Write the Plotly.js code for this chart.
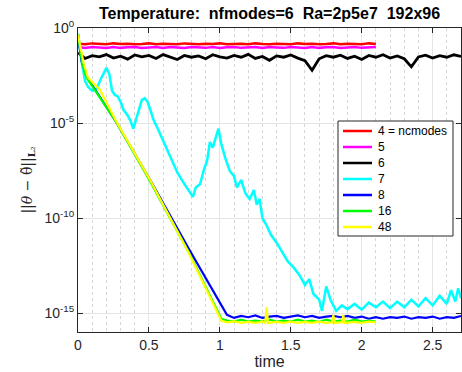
<!DOCTYPE html>
<html>
<head>
<meta charset="utf-8">
<script src="https://cdn.plot.ly/plotly-3.0.1.min.js"></script>
<style>html,body{margin:0;padding:0;background:#fff;}#chart{width:462px;height:372px;}</style>
</head>
<body>
<div id="chart"></div>
<script>
// ---- data ----
const seriesNames = ['4 = ncmodes', '5', '6', '7', '8', '16', '48'];
const seriesColors = ['#ff0000', '#ff00ff', '#000000', '#00ffff', '#0000ff', '#00ff00', '#ffff00'];

const T = [0,0.05,0.1,0.15,0.2,0.25,0.3,0.35,0.4,0.45,0.5,0.55,0.6,0.65,0.7,0.75,0.8,0.85,0.9,0.95,1,1.05,1.1,1.15,1.2,1.25,1.3,1.35,1.4,1.45,1.5,1.55,1.6,1.65,1.7,1.75,1.8,1.85,1.9,1.95,2,2.05,2.1,2.15,2.2,2.25,2.3,2.35,2.4,2.45,2.5,2.55,2.6,2.65,2.7];
const T_short = [0,0.05,0.1,0.15,0.2,0.25,0.3,0.35,0.4,0.45,0.5,0.55,0.6,0.65,0.7,0.75,0.8,0.85,0.9,0.95,1,1.05,1.1,1.15,1.2,1.25,1.3,1.35,1.4,1.45,1.5,1.55,1.6,1.65,1.7,1.75,1.8,1.85,1.9,1.95,2,2.05,2.1];

const red_vals = [0.15,0.14,0.155,0.145,0.14,0.155,0.145,0.15,0.14,0.145,0.155,0.14,0.15,0.145,0.14,0.155,0.145,0.14,0.15,0.145,0.155,0.14,0.145,0.15,0.14,0.155,0.145,0.14,0.15,0.145,0.14,0.155,0.145,0.15,0.14,0.145,0.155,0.14,0.15,0.145,0.14,0.155,0.145];
const magenta_vals = [0.1,0.09,0.1,0.095,0.088,0.1,0.09,0.096,0.1,0.088,0.095,0.1,0.09,0.1,0.094,0.088,0.1,0.095,0.09,0.1,0.088,0.096,0.1,0.09,0.095,0.1,0.088,0.1,0.095,0.09,0.1,0.094,0.088,0.1,0.09,0.096,0.1,0.088,0.095,0.1,0.09,0.095,0.1];
const black_vals = [0.05,0.025,0.035,0.03,0.04,0.026,0.033,0.023,0.038,0.03,0.036,0.025,0.04,0.03,0.022,0.036,0.029,0.034,0.024,0.039,0.03,0.026,0.036,0.029,0.041,0.025,0.032,0.02,0.034,0.029,0.038,0.026,0.019,0.006,0.024,0.035,0.029,0.037,0.025,0.033,0.022,0.036,0.029,0.039,0.026,0.034,0.024,0.009,0.03,0.037,0.026,0.035,0.029,0.039,0.032];

const cyan_t = [0,0.02,0.05,0.07,0.1,0.13,0.16,0.19,0.2,0.22,0.24,0.26,0.28,0.3,0.32,0.35,0.37,0.39,0.41,0.43,0.45,0.47,0.49,0.51,0.53,0.55,0.58,0.62,0.66,0.7,0.74,0.78,0.81,0.83,0.86,0.89,0.91,0.93,0.95,0.97,0.99,1.01,1.04,1.07,1.1,1.12,1.15,1.18,1.21,1.24,1.26,1.28,1.3,1.33,1.36,1.4,1.44,1.48,1.52,1.56,1.6,1.63,1.66,1.7,1.72,1.75,1.78,1.82,1.86,1.9,1.95,2,2.05,2.1,2.15,2.2,2.25,2.3,2.35,2.4,2.45,2.5,2.55,2.6,2.63,2.66,2.68,2.7];
const cyan_vals = [0.5,0.03,1.6e-3,8e-4,5e-4,6e-4,2e-3,6e-3,8e-3,4e-3,5e-4,3e-4,2.5e-4,1.3e-4,5e-5,2.5e-5,1.3e-5,5e-6,1.6e-5,6e-5,1.6e-4,2e-4,1.3e-4,5e-5,1.6e-5,8e-6,2.5e-6,5e-7,1e-7,2.5e-8,8e-9,3e-9,1.3e-9,4e-9,6e-9,4e-8,1e-7,1e-6,5e-7,1.6e-6,5e-6,8e-7,1.3e-7,3e-8,1.6e-8,4e-9,1e-8,2e-9,1e-9,3e-9,5e-10,1e-9,1e-10,4e-11,1.3e-11,5e-12,1.6e-12,5e-13,2.5e-13,1e-13,3e-14,6e-14,1e-14,5e-15,1.3e-15,2.5e-14,5e-15,1.3e-15,2.5e-15,1.6e-15,3e-15,1.5e-15,3.5e-15,2e-15,4e-15,1.8e-15,4e-15,2e-15,5e-15,2.2e-15,6e-15,2.5e-15,8e-15,3e-15,1.6e-14,4e-15,2e-14,6e-15];

const blue_t = [0,0.026,0.061,0.273,0.5,0.78,1.05,1.1,1.15,1.2,1.25,1.3,1.35,1.4,1.45,1.5,1.55,1.6,1.65,1.7,1.75,1.8,1.85,1.9,1.95,2,2.05,2.1,2.15,2.2,2.25,2.3,2.35,2.4,2.45,2.5,2.55,2.6,2.65,2.7];
const blue_vals = [0.45,0.017,2.8e-3,1e-5,1.3e-8,2.5e-12,8e-16,5.5e-16,7e-16,6e-16,7.5e-16,5.5e-16,6.5e-16,7e-16,5.5e-16,6.5e-16,7.5e-16,6e-16,7e-16,5.5e-16,6.5e-16,7e-16,6e-16,7e-16,5.5e-16,6.5e-16,5e-16,6e-16,5e-16,6e-16,5.5e-16,6.5e-16,5e-16,6e-16,5.5e-16,6.5e-16,5e-16,6e-16,5.5e-16,7e-16];

const green_t = [0,0.03,0.06,0.27,0.5,0.78,1.01,1.05,1.1,1.15,1.2,1.25,1.3,1.35,1.4,1.45,1.5,1.55,1.6,1.65,1.7,1.75,1.8,1.85,1.9,1.95,2,2.05,2.1];
const green_vals = [0.45,0.014,2.5e-3,1.1e-5,1.1e-8,1.6e-12,5e-16,4e-16,3.5e-16,4.5e-16,3.5e-16,4e-16,3.5e-16,4.5e-16,3.5e-16,4e-16,3.5e-16,4.5e-16,3.5e-16,4e-16,3.3e-16,4.5e-16,3.5e-16,4e-16,3.5e-16,4.5e-16,3.5e-16,4e-16,3.5e-16];

const yellow_t = [0,0.04,0.07,0.155,0.27,0.5,0.78,1.01,1.05,1.1,1.15,1.2,1.25,1.3,1.32,1.33,1.34,1.4,1.45,1.5,1.55,1.6,1.65,1.7,1.75,1.79,1.8,1.81,1.86,1.87,1.88,1.95,2,2.05,2.1];
const yellow_vals = [0.45,0.014,2.5e-3,5.5e-4,1.2e-5,1.3e-8,1.5e-12,4e-16,3.2e-16,3.6e-16,3e-16,3.4e-16,3e-16,3.5e-16,3e-16,2e-15,3e-16,3.4e-16,3e-16,3.5e-16,3e-16,3.4e-16,3e-16,3.5e-16,3e-16,3.2e-16,8e-16,3e-16,3.3e-16,8e-16,3e-16,3.4e-16,3e-16,3.5e-16,3.2e-16];

const xTickVals = [0, 0.5, 1, 1.5, 2, 2.5];
const xTickText = ['0', '0.5', '1', '1.5', '2', '2.5'];
const yTickVals = [1e-15, 1e-10, 1e-5, 1];
const yTickText = ['10<sup>-15</sup>', '10<sup>-10</sup>', '10<sup>-5</sup>', '10<sup>0</sup>'];

// ---- traces ----
const xs = [T_short, T_short, T, cyan_t, blue_t, green_t, yellow_t];
const ys = [red_vals, magenta_vals, black_vals, cyan_vals, blue_vals, green_vals, yellow_vals];
const widths = [2.5, 2.5, 2.8, 2.5, 2.2, 2.2, 2.2];
const traces = seriesNames.map((n, i) => ({
  x: xs[i], y: ys[i], name: n, type: 'scatter', mode: 'lines',
  line: {color: seriesColors[i], width: widths[i]}, showlegend: false
}));

// ---- plot-area geometry (pixels) and a hand-built legend box ----
const PL = 78, PR = 461, PT = 28, PB = 332;
const px2x = p => (p - PL) / (PR - PL);
const px2y = p => (PB - p) / (PB - PT);
const LEG = {left: 338, right: 453, top: 121, bottom: 236, row0: 131, rowGap: 16, lineX0: 343, lineX1: 372, textX: 376};

const shapes = [{type: 'rect', xref: 'paper', yref: 'paper',
  x0: px2x(LEG.left), x1: px2x(LEG.right), y0: px2y(LEG.bottom), y1: px2y(LEG.top),
  line: {color: '#262626', width: 1}, fillcolor: '#ffffff', layer: 'above'}];
const annotations = [];
seriesNames.forEach((n, i) => {
  const yy = px2y(LEG.row0 + i * LEG.rowGap);
  shapes.push({type: 'line', xref: 'paper', yref: 'paper', x0: px2x(LEG.lineX0), x1: px2x(LEG.lineX1), y0: yy, y1: yy,
    line: {color: seriesColors[i], width: 2.5}, layer: 'above'});
  annotations.push({xref: 'paper', yref: 'paper', x: px2x(LEG.textX), y: yy, xanchor: 'left', yanchor: 'middle',
    text: n, showarrow: false, font: {size: 12, color: '#000'}});
});

const font = 'Liberation Sans, Arial, sans-serif';
const layout = {
  width: 462, height: 372,
  margin: {l: 78, r: 1, t: 28, b: 40},
  paper_bgcolor: '#fff', plot_bgcolor: '#fff',
  font: {family: font, color: '#262626', size: 13},
  title: {text: '<b>Temperature:\u00a0 nfmodes=6\u00a0 Ra=2p5e7\u00a0 192x96</b>',
          font: {family: font, size: 16, color: '#000'},
          xref: 'paper', x: 0.5, xanchor: 'center', yref: 'container', y: 0.965, yanchor: 'middle'},
  xaxis: {
    range: [0, 2.7], tickvals: xTickVals, ticktext: xTickText,
    ticks: 'inside', ticklen: 5, tickcolor: '#262626',
    showline: true, linecolor: '#262626', linewidth: 1, mirror: 'ticks',
    showgrid: true, gridcolor: '#e4e4e4', zeroline: false,
    minor: {dtick: 0.1, tick0: 0, showgrid: true, gridcolor: '#d6d6d6', griddash: 'dot', ticks: ''},
    tickfont: {size: 14, color: '#262626'},
    title: {text: 'time', font: {size: 16, color: '#262626'}, standoff: 3},
    automargin: false
  },
  yaxis: {
    type: 'log', range: [-16, 0], tickvals: yTickVals, ticktext: yTickText,
    ticks: 'inside', ticklen: 5, tickcolor: '#262626',
    showline: true, linecolor: '#262626', linewidth: 1, mirror: 'ticks',
    showgrid: true, gridcolor: '#e4e4e4', zeroline: false,
    tickfont: {size: 14, color: '#262626'},
    title: {text: '||<i>\u03b8</i> \u2212 \u03b8\u0303||<sub><b>L</b>\u2082</sub>',
            font: {family: 'DejaVu Serif, serif', size: 14, color: '#262626'}, standoff: 8},
    automargin: false
  },
  showlegend: false,
  shapes: shapes,
  annotations: annotations
};

Plotly.newPlot('chart', traces, layout, {displayModeBar: false, staticPlot: true});
</script>
</body>
</html>
